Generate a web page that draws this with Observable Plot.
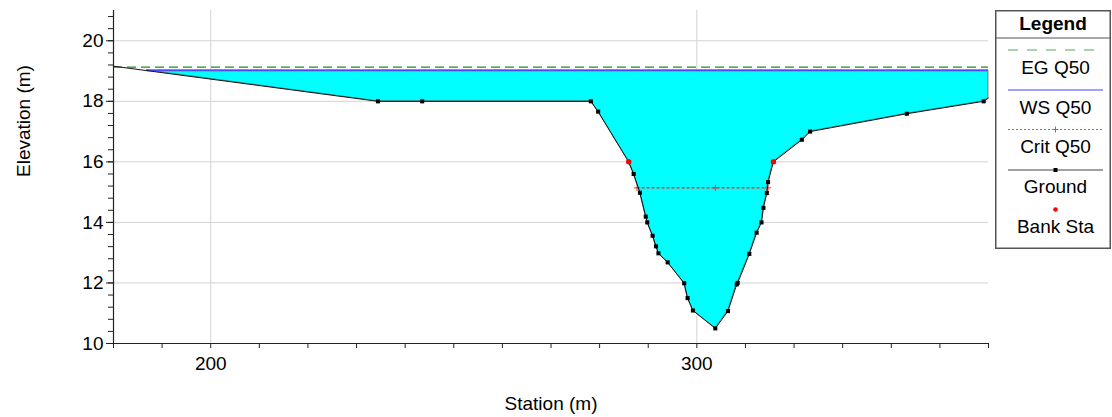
<!DOCTYPE html>
<html>
<head>
<meta charset="utf-8">
<script src="https://cdn.jsdelivr.net/npm/d3@7"></script>
<script src="https://cdn.jsdelivr.net/npm/@observablehq/plot@0.6"></script>
<style>
  html, body { margin: 0; padding: 0; background: #fff; }
  #wrap { position: relative; width: 1112px; height: 417px; font-family: Arial, "Liberation Sans", sans-serif; }
  #legend { position: absolute; left: 995px; top: 10px; }
</style>
</head>
<body>
<div id="wrap"><div id="chart"></div><div id="legend"></div></div>
<script>
// Ground profile (station m, elevation m); first and last are the clipped edge points
const stations = [180, 234.4, 243.5, 278.2, 279.7, 286.0, 287.0, 288.3, 289.5, 289.8, 290.9, 291.6, 292.1, 294.0, 297.4, 298.1, 299.2, 303.8, 306.4, 308.2, 308.4, 310.8, 312.3, 313.3, 313.7, 314.4, 314.65, 315.75, 321.6, 323.3, 343.2, 359.0, 360];
const elevations = [19.16, 18.0, 18.0, 18.0, 17.66, 16.0, 15.6, 14.98, 14.19, 14.0, 13.56, 13.21, 12.98, 12.68, 11.99, 11.5, 11.09, 10.5, 11.07, 11.95, 12.0, 12.96, 13.66, 14.0, 14.48, 14.97, 15.33, 16.0, 16.73, 17.0, 17.59, 18.0, 18.11];
// Bank stations
const bankStations = [286.0, 315.75];
const bankElevations = [16.0, 16.0];
// Water surface, energy grade, critical depth (Q50)
const wsElev = 19.02;
const wsLeft = 186.9;
const egElev = 19.13;
const critElev = 15.14;
const critStations = [287.7, 303.8, 314.65];
// Axis ticks
const xTicks = [200, 300];
const yTicks = [10, 12, 14, 16, 18, 20];
const legendLabels = ["EG Q50", "WS Q50", "Crit Q50", "Ground", "Bank Sta"];

const FONT = 'Arial, "Liberation Sans", sans-serif';
const ground = stations.map((x, i) => ({x, y: elevations[i]}));
const water = [{x: wsLeft, y: wsElev}, ...ground.filter(d => d.x > wsLeft)];
const banks = bankStations.map((x, i) => ({x, y: bankElevations[i]}));
const xMinor = d3.range(180, 360.01, 10);
const yMinor = d3.range(10, 21.01, 0.4);

const chart = Plot.plot({
  width: 1112,
  height: 417,
  marginLeft: 113,
  marginRight: 124,
  marginTop: 10,
  marginBottom: 74,
  x: {domain: [180, 360]},
  y: {domain: [10, 21]},
  style: {fontFamily: FONT, fontSize: "19px", color: "#000", background: "#fff", overflow: "visible"},
  marks: [
    Plot.gridX(xTicks, {stroke: "#d2d2d2", strokeOpacity: 1}),
    Plot.gridY(yTicks.slice(1), {stroke: "#d2d2d2", strokeOpacity: 1}),
    Plot.areaY(water, {x: "x", y1: "y", y2: wsElev, fill: "#00ffff", stroke: "#404040", strokeWidth: 0.6}),
    Plot.ruleY([egElev], {x1: 180, x2: 360, stroke: "#1f8f1f", strokeWidth: 1.3, strokeDasharray: "9,5"}),
    Plot.ruleY([wsElev], {x1: wsLeft, x2: 360, stroke: "#4a4aff", strokeWidth: 1.8}),
    Plot.ruleY([critElev], {x1: critStations[0], x2: critStations[critStations.length - 1], stroke: "#ff1a1a", strokeWidth: 1.2, strokeDasharray: "3,2"}),
    Plot.dot(critStations, {x: d => d, y: critElev, symbol: "plus", r: 2.2, stroke: "#e03a3a", strokeWidth: 1}),
    Plot.line(ground, {x: "x", y: "y", stroke: "#111", strokeWidth: 1}),
    Plot.dot(ground.slice(1, -1), {x: "x", y: "y", symbol: "square", r: 2.3, fill: "#000", stroke: "none"}),
    Plot.dot(banks, {x: "x", y: "y", r: 2.7, fill: "#ff0000", stroke: "none"}),
    Plot.ruleX([180], {stroke: "#222", strokeWidth: 1.2}),
    Plot.ruleY([10], {stroke: "#222", strokeWidth: 1.2}),
    Plot.axisX(xMinor, {tickSize: 5, tickPadding: 8, tickFormat: d => (d % 100 === 0 ? String(d) : ""), label: null, stroke: "#222", fontSize: 19}),
    Plot.axisY(yMinor, {tickSize: 5, tickFormat: () => "", label: null, stroke: "#222"}),
    Plot.axisY(yTicks, {tickSize: 7, tickPadding: 3, label: null, stroke: "#222", fontSize: 19}),
    Plot.text(["Station (m)"], {text: d => d, frameAnchor: "bottom", dy: 66, fontSize: 19}),
    Plot.text(["Elevation (m)"], {text: d => d, frameAnchor: "left", dx: -90, rotate: -90, fontSize: 19})
  ]
});
document.getElementById("chart").appendChild(chart);

// Legend box
const W = 116, H = 239;
const lg = d3.select("#legend").append("svg")
  .attr("width", W).attr("height", H)
  .style("font-family", FONT).style("font-size", "19px");
lg.append("rect").attr("x", 0.75).attr("y", 0.75).attr("width", W - 1.5).attr("height", H - 1.5)
  .attr("fill", "#fff").attr("stroke", "#555").attr("stroke-width", 1.5);
lg.append("text").attr("x", W / 2).attr("y", 13).attr("dy", "0.35em")
  .attr("text-anchor", "middle").attr("font-weight", "bold").text("Legend");
lg.append("line").attr("x1", 0).attr("x2", W).attr("y1", 28).attr("y2", 28).attr("stroke", "#555").attr("stroke-width", 1.2);
const x1 = 13, x2 = 108, xm = (x1 + x2) / 2;
const swY = [40, 80, 119.5, 160, 199.5];
const txY = [57, 97, 136, 176.5, 216];
// EG
lg.append("line").attr("x1", x1).attr("x2", x2).attr("y1", swY[0]).attr("y2", swY[0])
  .attr("stroke", "#8cc88c").attr("stroke-width", 1.5).attr("stroke-dasharray", "10,9");
// WS
lg.append("line").attr("x1", x1).attr("x2", x2).attr("y1", swY[1]).attr("y2", swY[1])
  .attr("stroke", "#8080ff").attr("stroke-width", 1.5);
// Crit
lg.append("line").attr("x1", x1).attr("x2", x2).attr("y1", swY[2]).attr("y2", swY[2])
  .attr("stroke", "#ff4a4a").attr("stroke-width", 1).attr("stroke-dasharray", "2,2");
lg.append("path").attr("d", `M${xm - 3},${swY[2]}h6M${xm},${swY[2] - 3}v6`).attr("stroke", "#e04a4a").attr("stroke-width", 1);
// Ground
lg.append("line").attr("x1", x1).attr("x2", x2).attr("y1", swY[3]).attr("y2", swY[3])
  .attr("stroke", "#444").attr("stroke-width", 1.2);
lg.append("rect").attr("x", xm - 2).attr("y", swY[3] - 2).attr("width", 4).attr("height", 4).attr("fill", "#000");
// Bank
lg.append("circle").attr("cx", xm).attr("cy", swY[4]).attr("r", 2.3).attr("fill", "#ff0000");
legendLabels.forEach((t, i) => {
  lg.append("text").attr("x", xm).attr("y", txY[i]).attr("dy", "0.35em").attr("text-anchor", "middle").text(t);
});
</script>
</body>
</html>
